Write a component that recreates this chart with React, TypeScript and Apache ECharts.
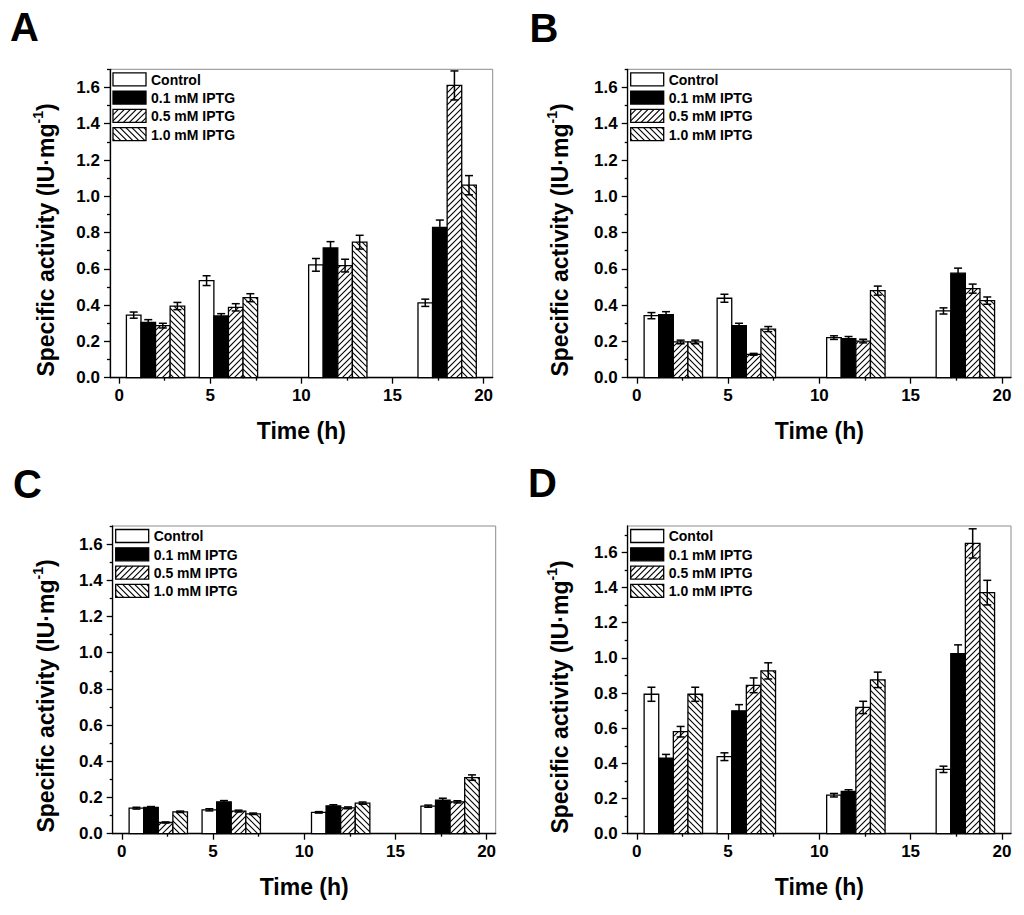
import React, { useEffect, useRef } from 'react';
import * as echarts from 'echarts';

// ---------- data ----------
const times = [2, 6, 12, 18];
const treatments = ['Control', '0.1 mM IPTG', '0.5 mM IPTG', '1.0 mM IPTG'];
const treatmentsD = ['Contol', '0.1 mM IPTG', '0.5 mM IPTG', '1.0 mM IPTG'];
const panelLetters = ['A', 'B', 'C', 'D'];
const xTicks = [0, 5, 10, 15, 20];
const xMinorTicks = [2.5, 7.5, 12.5, 17.5];
const yTicks = [0, 0.2, 0.4, 0.6, 0.8, 1.0, 1.2, 1.4, 1.6];
const yMinorTicks = [0.1, 0.3, 0.5, 0.7, 0.9, 1.1, 1.3, 1.5, 1.7];
const yMaxes = [1.7, 1.7, 1.7, 1.75];

// rows: Control, 0.1, 0.5, 1.0 mM IPTG ; columns: times
const meansA = [
  [0.345, 0.535, 0.622, 0.413],
  [0.305, 0.34, 0.715, 0.829],
  [0.287, 0.388, 0.618, 1.611],
  [0.395, 0.441, 0.747, 1.061],
];
const errsA = [
  [0.017, 0.027, 0.035, 0.02],
  [0.015, 0.013, 0.035, 0.04],
  [0.013, 0.02, 0.035, 0.08],
  [0.02, 0.022, 0.038, 0.053],
];
const meansB = [
  [0.342, 0.438, 0.221, 0.368],
  [0.347, 0.287, 0.215, 0.576],
  [0.197, 0.129, 0.202, 0.491],
  [0.197, 0.268, 0.48, 0.425],
];
const errsB = [
  [0.017, 0.022, 0.01, 0.017],
  [0.017, 0.013, 0.012, 0.028],
  [0.01, 0.005, 0.01, 0.025],
  [0.01, 0.014, 0.025, 0.02],
];
const meansC = [
  [0.141, 0.132, 0.118, 0.152],
  [0.145, 0.176, 0.154, 0.186],
  [0.062, 0.125, 0.143, 0.176],
  [0.121, 0.11, 0.169, 0.31],
];
const errsC = [
  [0.005, 0.006, 0.004, 0.006],
  [0.005, 0.007, 0.006, 0.01],
  [0.003, 0.005, 0.005, 0.006],
  [0.004, 0.004, 0.006, 0.015],
];
const meansD = [
  [0.793, 0.438, 0.219, 0.366],
  [0.429, 0.699, 0.24, 1.024],
  [0.58, 0.844, 0.718, 1.651],
  [0.793, 0.926, 0.875, 1.371],
];
const errsD = [
  [0.04, 0.022, 0.01, 0.018],
  [0.022, 0.035, 0.01, 0.05],
  [0.03, 0.042, 0.035, 0.083],
  [0.04, 0.046, 0.044, 0.07],
];

const panelMeans = [meansA, meansB, meansC, meansD];
const panelErrs = [errsA, errsB, errsC, errsD];
const panelLegends = [treatments, treatments, treatments, treatmentsD];

// ---------- layout / style ----------
const FONT = 'Liberation Sans';
const grids = [
  { left: 110, top: 69.3, width: 382.7, height: 308.4 },
  { left: 627.7, top: 69.3, width: 383.3, height: 308.4 },
  { left: 112.7, top: 526, width: 383, height: 307.7 },
  { left: 627.7, top: 526, width: 383.3, height: 307.7 },
];
const letterPos = [
  [10, 26.5],
  [529.5, 27.5],
  [13, 484],
  [528, 483],
];
const yTitlePos = [
  [46, 240],
  [560, 240],
  [46, 696],
  [560, 697],
];
const fills = ['#ffffff', '#000000', '#ffffff', '#ffffff'];
const hatchDir: (string | null)[] = [null, null, '/', '\\'];
const offsets = [-1.2, -0.4, 0.4, 1.2];
const BAR_W = 0.8;
const HATCH_STEP = 6;

function hatchSegments(x0: number, y0: number, x1: number, y1: number, dir: string) {
  const segs: number[][] = [];
  if (dir === '/') {
    const cStart = Math.ceil((x0 + y0) / HATCH_STEP) * HATCH_STEP;
    for (let c = cStart; c <= x1 + y1; c += HATCH_STEP) {
      const xa = Math.max(x0, c - y1);
      const xb = Math.min(x1, c - y0);
      if (xb > xa + 0.3) segs.push([xa, c - xa, xb, c - xb]);
    }
  } else {
    const cStart = Math.ceil((x0 - y1) / HATCH_STEP) * HATCH_STEP;
    for (let c = cStart; c <= x1 - y0; c += HATCH_STEP) {
      const xa = Math.max(x0, c + y0);
      const xb = Math.min(x1, c + y1);
      if (xb > xa + 0.3) segs.push([xa, xa - c, xb, xb - c]);
    }
  }
  return segs;
}

function makeRender(k: number) {
  return (params: any, api: any) => {
    const x = api.value(0);
    const v = api.value(1);
    const e = api.value(2);
    const p0 = api.coord([x - BAR_W / 2, v]);
    const p1 = api.coord([x + BAR_W / 2, 0]);
    const x0 = p0[0], y0 = p0[1], x1 = p1[0], y1 = p1[1];
    const children: any[] = [];
    children.push({
      type: 'rect',
      shape: { x: x0, y: y0, width: x1 - x0, height: y1 - y0 },
      style: { fill: fills[k], stroke: null },
    });
    const d = hatchDir[k];
    if (d) {
      hatchSegments(x0, y0, x1, y1, d).forEach((s) => {
        children.push({
          type: 'line',
          shape: { x1: s[0], y1: s[1], x2: s[2], y2: s[3] },
          style: { stroke: '#000', lineWidth: 1.1 },
        });
      });
    }
    children.push({
      type: 'rect',
      shape: { x: x0, y: y0, width: x1 - x0, height: y1 - y0 },
      style: { fill: null, stroke: '#000', lineWidth: 1.3 },
    });
    const cx = api.coord([x, v])[0];
    const yt = api.coord([x, v + e])[1];
    const yb = api.coord([x, v - e])[1];
    const es = { stroke: '#000', lineWidth: 1.5 };
    children.push({ type: 'line', shape: { x1: cx, y1: yt, x2: cx, y2: yb }, style: es });
    children.push({ type: 'line', shape: { x1: cx - 4, y1: yt, x2: cx + 4, y2: yt }, style: es });
    children.push({ type: 'line', shape: { x1: cx - 4, y1: yb, x2: cx + 4, y2: yb }, style: es });
    return { type: 'group', children };
  };
}

function buildOption() {
  const gridOpts: any[] = [];
  const xAxes: any[] = [];
  const yAxes: any[] = [];
  const series: any[] = [];
  const graphic: any[] = [];
  const tickStyle = { color: '#000', width: 1.3 };
  const labelStyle = { color: '#000', fontSize: 17, fontWeight: 'bold', fontFamily: FONT };

  grids.forEach((g, i) => {
    gridOpts.push({
      left: g.left,
      top: g.top,
      width: g.width,
      height: g.height,
      show: true,
      borderColor: '#8c8c8c',
      borderWidth: 1,
      backgroundColor: 'transparent',
      containLabel: false,
    });
    xAxes.push({
      type: 'value', gridIndex: i, min: -0.5, max: 20.5, position: 'bottom',
      axisLine: { show: true, onZero: false, lineStyle: tickStyle },
      axisTick: { show: true, inside: false, length: 6, customValues: xTicks, lineStyle: tickStyle },
      axisLabel: { show: true, customValues: xTicks, margin: 9, ...labelStyle, formatter: (v: number) => String(v) },
      splitLine: { show: false },
    });
    xAxes.push({
      type: 'value', gridIndex: i, min: -0.5, max: 20.5, position: 'bottom',
      axisLine: { show: false, onZero: false },
      axisTick: { show: true, inside: false, length: 3, customValues: xMinorTicks, lineStyle: tickStyle },
      axisLabel: { show: false },
      splitLine: { show: false },
    });
    yAxes.push({
      type: 'value', gridIndex: i, min: 0, max: yMaxes[i], position: 'left',
      axisLine: { show: true, onZero: false, lineStyle: tickStyle },
      axisTick: { show: true, inside: false, length: 6, customValues: yTicks, lineStyle: tickStyle },
      axisLabel: { show: true, customValues: yTicks, margin: 10, ...labelStyle, formatter: (v: number) => v.toFixed(1) },
      splitLine: { show: false },
    });
    yAxes.push({
      type: 'value', gridIndex: i, min: 0, max: yMaxes[i], position: 'left',
      axisLine: { show: false, onZero: false },
      axisTick: { show: true, inside: false, length: 3, customValues: yMinorTicks, lineStyle: tickStyle },
      axisLabel: { show: false },
      splitLine: { show: false },
    });

    for (let k = 0; k < 4; k++) {
      series.push({
        type: 'custom',
        name: panelLegends[i][k],
        coordinateSystem: 'cartesian2d',
        xAxisIndex: 2 * i,
        yAxisIndex: 2 * i,
        encode: { x: 0, y: 1 },
        clip: false,
        data: times.map((t, j) => [t + offsets[k], panelMeans[i][k][j], panelErrs[i][k][j]]),
        renderItem: makeRender(k),
      });
    }

    // panel letter
    graphic.push({
      type: 'text', x: letterPos[i][0], y: letterPos[i][1],
      style: { text: panelLetters[i], fontSize: 40, fontWeight: 'bold', fontFamily: FONT, fill: '#000', align: 'left', verticalAlign: 'middle' },
    });
    // x title
    graphic.push({
      type: 'text', x: g.left + g.width / 2, y: g.top + g.height + 53,
      style: { text: 'Time (h)', fontSize: 23, fontWeight: 'bold', fontFamily: FONT, fill: '#000', align: 'center', verticalAlign: 'middle' },
    });
    // y title
    graphic.push({
      type: 'text', x: yTitlePos[i][0], y: yTitlePos[i][1], rotation: Math.PI / 2,
      style: {
        text: 'Specific activity (IU·mg{sup|-1})',
        fontSize: 23, fontWeight: 'bold', fontFamily: FONT, fill: '#000',
        align: 'center', verticalAlign: 'middle', lineHeight: 30,
        rich: {
          sup: { fontSize: 14, fontWeight: 'bold', fontFamily: FONT, fill: '#000', verticalAlign: 'top', lineHeight: 14 },
        },
      },
    });
    // legend
    const lg: any[] = [];
    for (let k = 0; k < 4; k++) {
      const ry = k * 18.3;
      lg.push({ type: 'rect', shape: { x: 0, y: ry, width: 33, height: 13 }, style: { fill: fills[k], stroke: null } });
      const d = hatchDir[k];
      if (d) {
        hatchSegments(0, ry, 33, ry + 13, d).forEach((s) => {
          lg.push({ type: 'line', shape: { x1: s[0], y1: s[1], x2: s[2], y2: s[3] }, style: { stroke: '#000', lineWidth: 1.1 } });
        });
      }
      lg.push({ type: 'rect', shape: { x: 0, y: ry, width: 33, height: 13 }, style: { fill: null, stroke: '#000', lineWidth: 1.3 } });
      lg.push({
        type: 'text', x: 38, y: ry + 6.8,
        style: { text: panelLegends[i][k], fontSize: 14, fontWeight: 'bold', fontFamily: FONT, fill: '#000', align: 'left', verticalAlign: 'middle' },
      });
    }
    graphic.push({ type: 'group', x: g.left + 3, y: g.top + 3.5, children: lg });
  });

  return {
    animation: false,
    backgroundColor: '#ffffff',
    grid: gridOpts,
    xAxis: xAxes,
    yAxis: yAxes,
    series,
    graphic,
  };
}

export default function App() {
  const ref = useRef<HTMLDivElement>(null);
  useEffect(() => {
    if (!ref.current) return;
    const chart = echarts.init(ref.current, null, { renderer: 'svg' });
    chart.setOption(buildOption() as any);
    return () => chart.dispose();
  }, []);
  return <div ref={ref} style={{ position: 'absolute', left: 0, top: 0, width: 1024, height: 915 }} />;
}
